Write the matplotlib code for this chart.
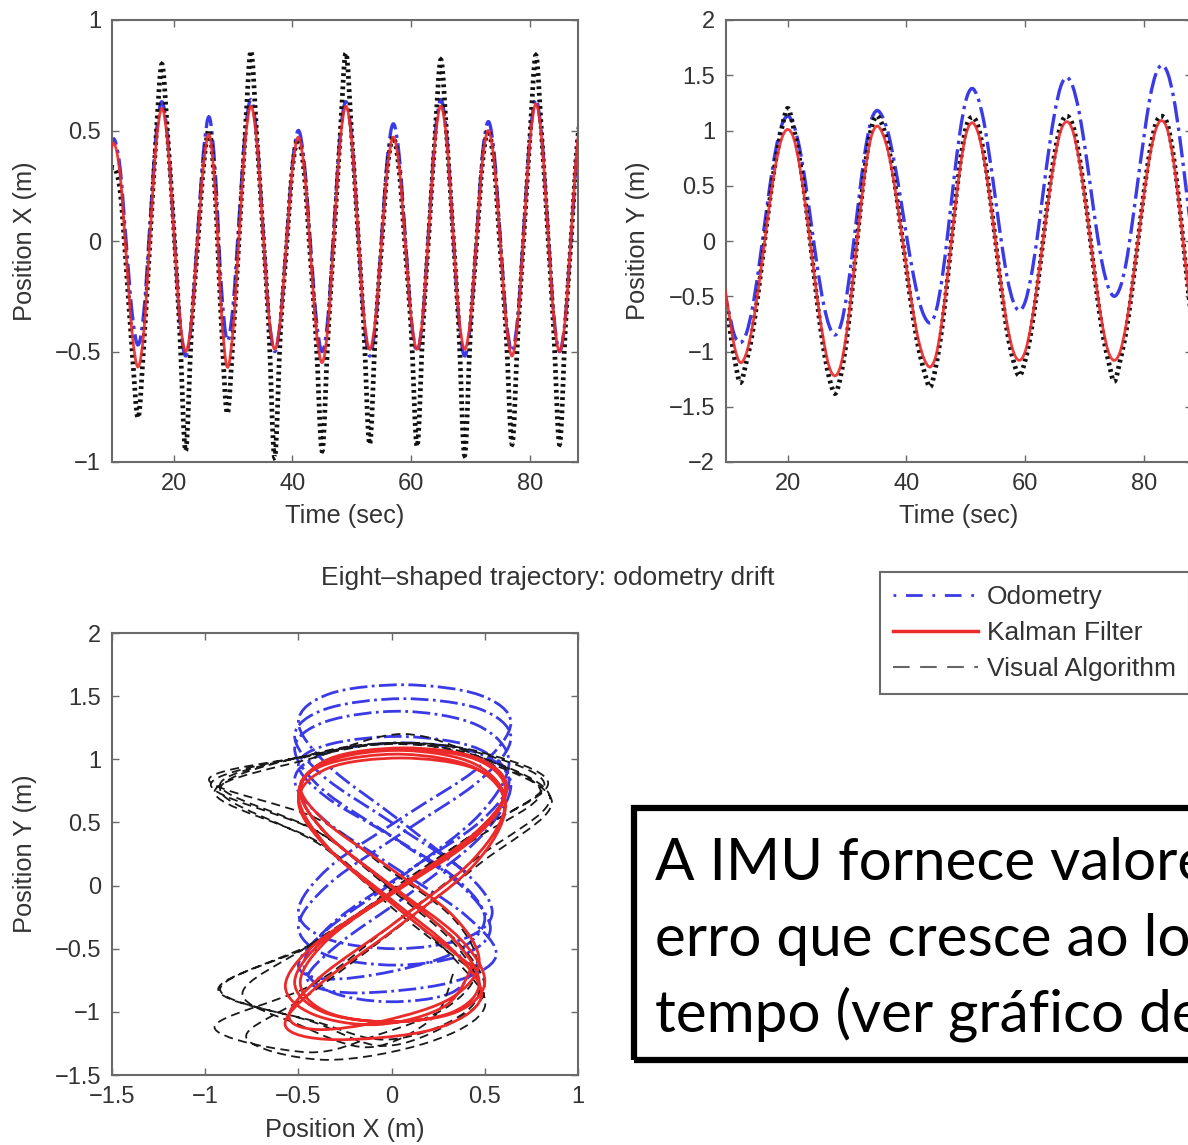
import numpy as np
import matplotlib
matplotlib.use('Agg')
import matplotlib.pyplot as plt
from matplotlib.lines import Line2D
from matplotlib.patches import Rectangle, PathPatch
from matplotlib.path import Path
from matplotlib.ticker import FuncFormatter

# sample times (s), one sample per second
t = np.arange(9, 90)

# Kalman filter estimate
kalman_x = [0.38, 0.44, 0.29, -0.07, -0.42, -0.57, -0.40, 0.02, 0.43, 0.60,
            0.44, 0.05, -0.34, -0.50, -0.36, -0.01, 0.34, 0.48, 0.22, -0.31,
            -0.57, -0.40, 0.02, 0.44, 0.61, 0.45, 0.06, -0.33, -0.49, -0.35,
            -0.01, 0.33, 0.47, 0.32, -0.04, -0.40, -0.55, -0.38, 0.03, 0.44,
            0.61, 0.45, 0.06, -0.33, -0.49, -0.35, -0.01, 0.33, 0.47, 0.33,
            -0.01, -0.35, -0.49, -0.33, 0.06, 0.45, 0.61, 0.45, 0.06, -0.33,
            -0.49, -0.35, 0.00, 0.36, 0.50, 0.35, -0.01, -0.37, -0.52, -0.35,
            0.05, 0.45, 0.62, 0.46, 0.06, -0.34, -0.50, -0.34, 0.05, 0.44, 0.60]
kalman_y = [-0.30, -0.62, -0.95, -1.10, -1.02, -0.79, -0.45, -0.05, 0.36, 0.70,
            0.93, 1.01, 0.93, 0.68, 0.32, -0.10, -0.53, -0.89, -1.14, -1.22,
            -1.11, -0.80, -0.34, 0.16, 0.62, 0.93, 1.04, 0.97, 0.79, 0.50,
            0.14, -0.24, -0.60, -0.89, -1.07, -1.14, -1.03, -0.72, -0.28, 0.21,
            0.65, 0.96, 1.07, 0.99, 0.76, 0.41, 0.00, -0.42, -0.77, -1.00,
            -1.08, -1.00, -0.76, -0.41, 0.00, 0.41, 0.76, 1.00, 1.08, 1.00,
            0.76, 0.41, 0.00, -0.41, -0.76, -1.00, -1.08, -1.00, -0.76, -0.41,
            0.00, 0.42, 0.77, 1.01, 1.09, 1.00, 0.72, 0.30, -0.20, -0.65, -0.95]

# odometry
odom_x = [0.40, 0.46, 0.32, -0.01, -0.33, -0.47, -0.31, 0.08, 0.47, 0.63,
          0.46, 0.06, -0.35, -0.52, -0.36, 0.02, 0.40, 0.56, 0.31, -0.20,
          -0.45, -0.29, 0.10, 0.48, 0.64, 0.47, 0.07, -0.33, -0.50, -0.35,
          0.00, 0.35, 0.50, 0.35, 0.00, -0.35, -0.50, -0.34, 0.07, 0.47,
          0.63, 0.46, 0.06, -0.35, -0.52, -0.37, 0.01, 0.38, 0.53, 0.38,
          0.02, -0.35, -0.50, -0.33, 0.07, 0.47, 0.64, 0.47, 0.06, -0.35,
          -0.52, -0.37, 0.01, 0.39, 0.54, 0.39, 0.02, -0.35, -0.50, -0.33,
          0.07, 0.47, 0.64, 0.47, 0.07, -0.33, -0.50, -0.34, 0.04, 0.42, 0.58]
odom_y = [-0.40, -0.62, -0.85, -0.92, -0.84, -0.62, -0.29, 0.11, 0.50, 0.83,
          1.05, 1.13, 1.05, 0.84, 0.52, 0.14, -0.24, -0.56, -0.77, -0.85,
          -0.75, -0.47, -0.06, 0.39, 0.80, 1.08, 1.18, 1.12, 0.96, 0.70,
          0.39, 0.05, -0.26, -0.52, -0.68, -0.74, -0.63, -0.34, 0.09, 0.56,
          0.98, 1.27, 1.38, 1.30, 1.09, 0.76, 0.38, -0.01, -0.34, -0.55,
          -0.63, -0.55, -0.32, 0.02, 0.43, 0.83, 1.17, 1.40, 1.48, 1.40,
          1.19, 0.87, 0.49, 0.11, -0.21, -0.42, -0.50, -0.42, -0.20, 0.15,
          0.55, 0.94, 1.29, 1.51, 1.59, 1.52, 1.30, 0.95, 0.52, 0.08, -0.30]

# visual algorithm
visual_x = [0.30, 0.33, 0.22, -0.12, -0.50, -0.80, -0.45, 0.00, 0.46, 0.80,
            0.47, 0.06, -0.40, -0.95, -0.40, -0.03, 0.33, 0.50, 0.20, -0.36,
            -0.78, -0.44, 0.01, 0.47, 0.86, 0.47, 0.05, -0.38, -0.98, -0.40,
            -0.03, 0.33, 0.46, 0.30, -0.07, -0.45, -0.95, -0.42, 0.01, 0.46,
            0.85, 0.47, 0.05, -0.38, -0.92, -0.40, -0.03, 0.33, 0.47, 0.31,
            -0.04, -0.40, -0.93, -0.38, 0.04, 0.47, 0.82, 0.47, 0.05, -0.38,
            -0.97, -0.40, -0.02, 0.35, 0.50, 0.33, -0.04, -0.42, -0.92, -0.40,
            0.03, 0.47, 0.84, 0.47, 0.04, -0.40, -0.92, -0.38, 0.03, 0.45, 0.62]
visual_y = [-0.34, -0.70, -1.05, -1.28, -1.10, -0.85, -0.48, -0.05, 0.38, 0.74,
            1.02, 1.20, 1.02, 0.74, 0.35, -0.10, -0.57, -0.96, -1.24, -1.38,
            -1.20, -0.86, -0.36, 0.17, 0.66, 1.00, 1.13, 1.04, 0.84, 0.53,
            0.14, -0.26, -0.65, -0.96, -1.18, -1.32, -1.12, -0.78, -0.30, 0.22,
            0.69, 1.02, 1.12, 1.05, 0.80, 0.43, 0.00, -0.45, -0.83, -1.08,
            -1.22, -1.08, -0.82, -0.44, 0.00, 0.44, 0.80, 1.05, 1.13, 1.05,
            0.80, 0.43, 0.00, -0.44, -0.82, -1.08, -1.27, -1.08, -0.82, -0.44,
            0.00, 0.44, 0.81, 1.06, 1.13, 1.05, 0.76, 0.32, -0.21, -0.69, -1.00]

series_names = ['Odometry', 'Kalman Filter', 'Visual Algorithm']
title = 'Eight\u2013shaped trajectory: odometry drift'
note_lines = ['A IMU fornece valore', 'erro que cresce ao lo', 'tempo (ver gráfico de']

BLUE = '#3a3ae6'
RED = '#ec2a2a'
TXT = '#333333'
EDGE = '#6a6a6a'

plt.rcParams['font.family'] = ['Liberation Sans', 'DejaVu Sans']

W, H = 1188, 1145
fig = plt.figure(figsize=(W / 100, H / 100), dpi=100)
fig.patch.set_facecolor('white')


def box(x0, y0, x1, y1):
    return [x0 / W, 1 - y1 / H, (x1 - x0) / W, (y1 - y0) / H]


def fmt(v, pos):
    return f'{v:g}'.replace('-', '\u2212')


def smooth_line(ax, x, y, **kw):
    # draw a smooth (Catmull-Rom style) curve through the samples
    p = np.column_stack([x, y]).astype(float)
    q = np.vstack([p[0], p, p[-1]])
    verts, codes = [p[0]], [Path.MOVETO]
    for i in range(1, len(q) - 2):
        verts += [q[i] + (q[i + 1] - q[i - 1]) / 6,
                  q[i + 1] - (q[i + 2] - q[i]) / 6,
                  q[i + 1]]
        codes += [Path.CURVE4] * 3
    ax.add_patch(PathPatch(Path(verts, codes), fill=False, **kw))


def style(ax, xlabel, ylabel, lab_x):
    for s in ax.spines.values():
        s.set_color(EDGE)
        s.set_linewidth(1.5)
    ax.tick_params(direction='in', top=True, right=True, length=5, width=1,
                   color=EDGE, labelsize=17, labelcolor=TXT, pad=8)
    ax.xaxis.set_major_formatter(FuncFormatter(fmt))
    ax.yaxis.set_major_formatter(FuncFormatter(fmt))
    ax.set_xlabel(xlabel, fontsize=18.3, color=TXT)
    ax.set_ylabel(ylabel, fontsize=18.3, color=TXT)
    ax.xaxis.set_label_coords(0.5, -0.122)
    ax.xaxis.label.set_va('center')
    ax.yaxis.set_label_coords(lab_x, 0.5)
    ax.yaxis.label.set_va('center')


ax1 = fig.add_axes(box(112, 20, 578, 462))
ax2 = fig.add_axes(box(726, 20, 1192, 462))
ax3 = fig.add_axes(box(112, 633, 578, 1075))

dots = (0, (0.6, 0.8))
for ax, od, vi, ka in [(ax1, odom_x, visual_x, kalman_x), (ax2, odom_y, visual_y, kalman_y)]:
    smooth_line(ax, t, od, edgecolor=BLUE, ls='-.', lw=2.4, zorder=1)
    smooth_line(ax, t, vi, edgecolor='#111111', ls=dots, lw=3.4, zorder=2)
    smooth_line(ax, t, ka, edgecolor=RED, lw=2.0, alpha=0.9, zorder=3)
    ax.set_xlim(9.6, 88.1)
    ax.set_xticks([20, 40, 60, 80])

ax1.set_ylim(-1, 1)
ax1.set_yticks([-1, -0.5, 0, 0.5, 1])
ax2.set_ylim(-2, 2)
ax2.set_yticks(np.arange(-2, 2.01, 0.5))

# trajectory over the same time window as the time plots
win = (t >= 10) & (t <= 88)
ox, oy = np.array(odom_x)[win], np.array(odom_y)[win]
vx, vy = np.array(visual_x)[win], np.array(visual_y)[win]
kx, ky = np.array(kalman_x)[win], np.array(kalman_y)[win]
smooth_line(ax3, ox, oy, edgecolor=BLUE, ls='-.', lw=2.0, zorder=1)
smooth_line(ax3, vx, vy, edgecolor='#1a1a1a', ls=(0, (5, 3)), lw=1.3, zorder=2)
smooth_line(ax3, kx, ky, edgecolor=RED, lw=2.0, zorder=3)
ax3.set_xlim(-1.5, 1)
ax3.set_ylim(-1.5, 2)
ax3.set_xticks(np.arange(-1.5, 1.01, 0.5))
ax3.set_yticks(np.arange(-1.5, 2.01, 0.5))

style(ax1, 'Time (sec)', 'Position X (m)', -(112 - 25) / 466)
style(ax2, 'Time (sec)', 'Position Y (m)', -(726 - 638) / 466)
style(ax3, 'Position X (m)', 'Position Y (m)', -(112 - 25) / 466)
ax3.xaxis.set_label_coords(0.5, -0.124)

fig.text(548 / W, 1 - 578 / H, title, ha='center', va='center', fontsize=19, color=TXT)

handles = [Line2D([], [], color=BLUE, ls=(0, (1, 3.5, 6, 3.5)), lw=2.0),
           Line2D([], [], color=RED, lw=2.5),
           Line2D([], [], color='#666666', ls=(0, (8, 5)), lw=1.5)]
leg = fig.legend(handles, series_names, loc='upper left',
                 bbox_to_anchor=(880 / W, 1 - 572 / H), borderaxespad=0,
                 fontsize=19, frameon=True, fancybox=False, framealpha=1,
                 edgecolor=EDGE, handlelength=3.2, handletextpad=0.35,
                 labelspacing=0.45, borderpad=0.5)
leg.get_frame().set_linewidth(1.5)
for txt in leg.get_texts():
    txt.set_color(TXT)

fig.add_artist(Rectangle((634 / W, 1 - 1060 / H), 0.6, (1060 - 808) / H,
                         transform=fig.transFigure, fill=False,
                         edgecolor='black', linewidth=4.5))
for i, line in enumerate(note_lines):
    fig.text(655 / W, 1 - (880 + 76 * i) / H, line, ha='left', va='baseline',
             fontsize=42, family='Lato', color='black')

fig.savefig('out.png', dpi=100)
